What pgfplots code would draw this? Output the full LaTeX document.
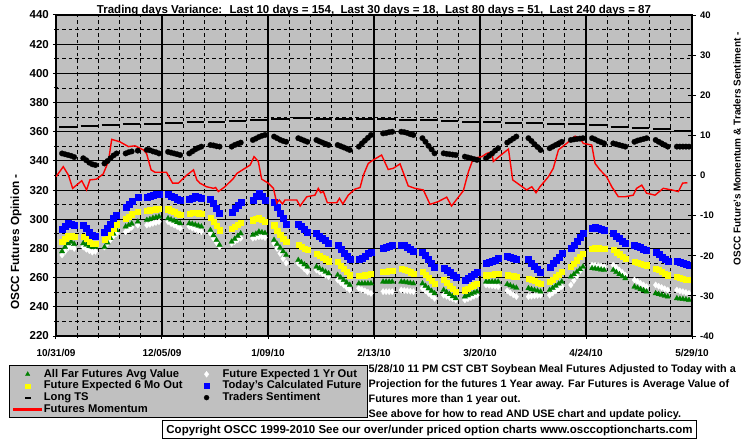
\documentclass[border=0pt]{standalone}
\usepackage{fontspec}
\setmainfont{Liberation Sans}
\usepackage{pgfplots}
\pgfplotsset{compat=1.18}
\usepackage{pgfplotstable}
\definecolor{bg}{RGB}{192,192,192}
\definecolor{mgreen}{RGB}{0,128,0}
\definecolor{myellow}{RGB}{255,255,0}
\definecolor{mblue}{RGB}{0,0,255}
\definecolor{mred}{RGB}{255,0,0}
\newcommand{\myfont}{\fontsize{10.8bp}{13bp}\selectfont\bfseries}
\pgfplotsset{
 markleg/.style={legend image code/.code={\path[draw=none,fill=none] (0bp,-1bp) rectangle (28bp,1bp); \draw[##1] plot coordinates {(14bp,0bp)};}},
 redleg/.style={legend image code/.code={\fill[red] (0bp,-1bp) rectangle (28bp,1bp);}},
 dashleg/.style={legend image code/.code={\path[draw=none,fill=none] (0bp,-1bp) rectangle (28bp,1bp); \fill[fill=black, draw=none] (11bp,-1bp) rectangle (17bp,1bp);}},
}
\pgfplotstableread{
d B Y G W S
2 293.0 284.5 278.0 275.5 5.5
3 295.5 286.5 281.0 278.0 5.3
4 297.5 288.5 283.5 280.5 5.1
5 297.0 289.0 284.5 281.0 4.9
6 296.0 288.0 283.0 280.0 4.6
9 296.0 288.0 283.5 281.0 4.3
10 294.0 286.5 282.5 279.5 3.8
11 291.5 285.0 281.5 278.5 3.2
12 289.0 283.5 281.0 277.5 2.8
13 288.5 283.5 281.0 278.0 2.6
16 291.5 285.8 281.0 281.0 3.0
17 294.0 288.0 284.0 283.5 3.6
18 297.0 291.0 287.0 286.0 4.3
19 300.5 294.0 290.0 288.5 5.0
20 303.0 296.7 292.5 290.3 5.5
23 308.6 300.6 295.0 291.5 5.5
24 310.5 302.0 296.0 293.0 5.8
25 312.5 303.5 297.0 294.5 6.0
27 315.5 305.2 298.3 296.0 6.2
30 315.5 305.9 299.5 296.0 6.4
31 316.0 306.3 300.0 296.5 6.3
32 316.5 306.7 300.8 297.2 6.0
33 317.0 307.0 301.3 297.8 5.8
34 317.0 307.3 301.8 298.3 5.5
37 317.0 307.0 300.6 298.3 5.9
38 316.0 306.0 299.8 297.0 5.7
39 315.0 305.0 299.0 296.0 5.5
40 314.0 304.0 298.0 295.0 5.3
41 313.0 303.0 297.2 293.8 5.1
44 313.7 304.0 297.2 295.0 5.5
45 314.8 304.3 296.8 294.0 6.0
46 315.9 304.5 296.2 293.2 6.5
47 315.0 304.2 295.6 292.3 6.9
48 314.3 304.0 295.0 291.5 7.2
51 314.0 301.3 292.6 290.3 7.6
52 311.0 298.5 289.0 287.0 7.5
53 307.5 295.5 285.7 284.0 7.3
54 304.0 292.6 282.4 281.2 7.2
58 305.0 293.8 284.6 283.5 7.2
59 307.5 295.0 286.5 284.7 7.6
60 310.0 296.5 288.5 286.0 7.9
61 312.0 297.7 290.3 287.0 8.2
65 313.0 299.5 289.2 287.0 8.85
66 316.0 300.5 290.0 287.5 9.2
67 317.8 301.3 291.5 288.0 9.6
68 316.0 300.0 291.0 288.0 9.9
69 313.0 298.3 290.5 287.5 10.1
72 312.0 296.0 285.8 283.5 9.7
73 308.5 292.5 283.0 280.0 9.3
74 304.5 289.5 280.5 276.5 8.9
75 300.5 287.0 278.0 273.0 8.6
76 297.0 284.5 275.5 270.0 8.4
80 297.0 282.4 272.0 269.8 9.3
81 295.0 281.2 270.5 268.0 9.0
82 293.0 280.0 269.0 266.0 8.7
83 291.5 279.0 267.5 264.0 8.4
86 290.3 276.6 267.5 265.2 8.85
87 288.8 275.3 266.3 264.0 8.5
88 287.3 274.0 265.2 262.8 8.2
89 285.7 272.7 264.0 261.7 7.9
90 284.0 271.4 262.9 260.6 7.6
93 282.0 271.0 261.8 258.4 7.6
94 279.5 268.5 260.0 256.6 7.3
95 277.0 266.2 258.3 254.9 7.0
96 274.7 264.0 256.6 253.2 6.7
97 272.5 261.8 255.0 251.5 6.36
100 272.5 261.3 256.0 252.7 7.2
101 273.5 261.5 256.0 251.8 8.0
102 275.0 261.8 256.0 251.0 8.7
103 276.5 262.2 256.0 250.0 9.4
104 277.8 262.5 256.0 249.2 10.1
108 280.0 264.0 257.2 250.4 10.5
109 280.8 264.4 257.2 250.4 10.6
110 281.6 264.7 257.2 250.4 10.8
111 282.4 265.0 257.2 250.4 10.9
114 282.4 266.4 257.2 251.5 10.9
115 282.0 265.5 257.0 251.2 10.8
116 281.0 264.6 256.7 251.0 10.6
117 279.8 263.8 256.3 250.7 10.3
118 278.5 262.9 256.0 250.4 10.1
121 277.8 264.0 256.0 252.7 9.3
122 275.3 262.0 254.3 251.0 8.4
123 272.7 260.0 252.6 249.2 7.4
124 270.0 258.0 250.9 247.5 6.5
125 267.5 256.0 249.2 245.8 5.53
128 266.4 258.4 251.5 248.0 5.53
129 265.0 256.4 250.0 247.2 5.4
130 263.5 254.4 248.6 246.3 5.3
131 262.0 252.4 247.2 245.5 5.2
132 260.6 250.4 245.8 244.7 5.1
135 258.4 251.5 247.0 244.7 4.7
136 259.8 252.6 247.8 245.5 4.5
137 261.2 253.7 248.7 246.3 4.3
138 262.6 254.9 249.6 247.2 4.1
139 264.0 256.0 250.4 248.0 3.9
142 269.8 261.8 257.2 255.0 4.28
143 270.6 262.0 257.2 254.7 4.9
144 271.5 262.3 257.2 254.4 5.5
145 272.3 262.6 257.2 254.1 6.2
146 273.2 262.9 257.2 253.8 6.8
149 275.0 261.8 255.5 251.0 8.2
150 274.3 261.4 254.6 249.5 8.7
151 273.6 261.0 253.7 248.2 9.2
152 273.0 260.6 253.0 247.0 9.7
156 272.5 259.5 252.7 247.0 9.3
157 270.3 258.6 252.1 247.3 8.6
158 268.2 257.7 251.5 247.5 7.8
159 266.0 256.8 251.0 247.8 7.1
160 264.0 256.0 250.4 248.0 6.36
163 267.5 257.2 251.5 248.0 6.8
164 269.8 258.9 252.9 249.5 7.2
165 272.0 260.6 254.4 250.9 7.6
166 274.3 262.3 255.8 252.4 8.0
167 276.6 264.0 257.2 253.8 8.4
170 280.0 267.5 260.6 255.0 8.85
171 282.6 269.8 262.3 258.0 9.0
172 285.2 272.0 264.0 261.0 9.1
173 287.7 274.3 265.8 264.5 9.2
174 290.3 276.6 267.5 267.5 9.3
177 294.2 280.0 266.4 268.6 9.3
178 294.6 280.3 266.2 268.5 9.0
179 294.0 280.3 265.9 268.2 8.6
180 293.3 280.1 265.5 267.8 8.3
181 292.6 280.0 265.2 267.5 8.0
184 290.3 279.0 265.2 268.6 8.0
185 288.6 277.5 263.8 266.9 7.8
186 286.9 276.1 262.3 265.2 7.6
187 285.2 274.6 260.9 263.5 7.4
188 283.5 273.2 259.5 261.8 7.2
191 282.4 271.0 253.8 258.4 8.4
192 281.6 270.4 253.0 257.3 8.7
193 280.7 269.8 252.1 256.1 8.9
194 279.9 269.2 251.3 255.0 9.1
195 279.0 268.6 250.4 253.8 9.3
198 277.8 266.4 249.2 255.0 8.85
199 276.1 265.3 248.6 254.1 8.4
200 274.4 264.1 248.1 253.2 8.0
201 272.7 263.0 247.5 252.4 7.6
202 271.0 261.8 247.0 251.5 7.2
205 271.0 260.6 245.8 251.5 7.2
206 270.4 260.0 245.5 250.9 7.2
207 269.8 259.5 245.3 250.4 7.2
208 269.2 258.9 245.0 249.8 7.2
209 268.6 258.4 244.7 249.2 7.2
}\futures
\pgfplotstableread{
d L
1.1 363.5
6.9 363.5
7.5 nan
8.1 364.1
13.9 364.1
14.5 nan
15.1 364.6
20.9 364.6
21.5 nan
22.1 365.1
27.9 365.1
28.5 nan
29.1 365.5
34.9 365.5
35.5 nan
36.1 366.2
41.9 366.2
42.5 nan
43.1 366.7
48.9 366.7
49.5 nan
50.1 366.9
55.9 366.9
56.5 nan
57.1 367.4
62.9 367.4
63.5 nan
64.1 367.8
69.9 367.8
70.5 nan
71.1 368.7
76.9 368.7
77.5 nan
78.1 369.2
83.9 369.2
84.5 nan
85.1 369.0
90.9 369.0
91.5 nan
92.1 368.8
97.9 368.8
98.5 nan
99.1 368.7
104.9 368.7
105.5 nan
106.1 368.6
111.9 368.6
112.5 nan
113.1 368.2
118.9 368.2
119.5 nan
120.1 368.0
125.9 368.0
126.5 nan
127.1 367.6
132.9 367.6
133.5 nan
134.1 366.9
139.9 366.9
140.5 nan
141.1 366.4
146.9 366.4
147.5 nan
148.1 366.2
153.9 366.2
154.5 nan
155.1 365.8
160.9 365.8
161.5 nan
162.1 365.3
167.9 365.3
168.5 nan
169.1 365.1
174.9 365.1
175.5 nan
176.1 364.4
181.9 364.4
182.5 nan
183.1 363.5
188.9 363.5
189.5 nan
190.1 362.5
195.9 362.5
196.5 nan
197.1 361.6
202.9 361.6
203.5 nan
204.1 360.7
209.9 360.7
}\longts
\pgfplotstableread{
d M
0 -0.3
2.4 2.2
4.1 0.1
5.5 -3.2
8.5 -1.3
10.1 -3.6
11.2 -1.1
13.4 -0.9
15.6 0.4
17.3 3.5
18.4 9.0
21.1 8.4
23.9 7.2
26.1 7.4
28.8 6.4
29.9 5.5
31.4 1.4
32.7 0.8
36.5 0.8
38.5 -1.9
40.4 -1.9
43.2 0.1
45.4 1.4
46.5 -1.1
47.5 -1.9
49.7 -2.8
52.0 -3.2
52.7 -3.0
53.6 -4.0
55.8 -2.8
58.6 -0.7
59.7 0.5
62.4 1.8
64.1 2.6
65.4 4.7
66.8 3.5
67.9 -0.9
70.1 -1.9
71.8 -3.2
72.9 -6.9
73.7 -6.1
74.8 -7.1
75.6 -6.1
79.5 -6.1
80.6 -7.6
82.8 -5.3
85.5 -4.9
86.6 -3.2
87.4 -4.3
88.3 -4.0
89.6 -6.8
92.7 -6.8
93.6 -5.7
94.7 -7.1
96.5 -4.9
98.7 -3.4
100.4 -3.0
101.5 0.1
103.1 3.0
104.8 3.9
107.5 5.1
109.7 1.5
111.4 1.8
113.6 2.9
116.3 -2.6
118.5 -3.2
121.3 -3.6
123.5 -7.2
126.2 -6.5
129.0 -5.4
130.6 -7.6
134.5 -3.8
136.2 1.0
137.8 4.3
140.6 4.7
142.2 5.5
143.9 5.9
144.4 3.5
146.6 4.9
149.4 6.6
150.8 -1.1
153.2 -2.4
155.4 -3.6
157.1 -2.8
158.5 -4.3
159.8 -2.8
162.6 -0.3
164.2 1.8
165.9 6.4
168.6 8.0
171.4 9.8
173.0 9.3
174.1 8.0
176.9 7.6
178.0 3.0
179.6 1.4
181.8 -0.3
183.5 -2.8
185.7 -5.3
187.9 -5.3
190.6 -4.9
191.7 -3.2
193.4 -2.4
195.0 -4.4
197.8 -4.9
200.5 -3.2
203.3 -3.6
205.5 -4.0
206.9 -1.9
208.5 -1.8
}\momentum
\begin{document}
\begin{tikzpicture}
\begin{scope}[x=1bp, y=-1bp, shift={(-56bp,336bp)}]
\draw[fill=bg, line width=1bp] (9.3,365.7) rectangle (367.7,417.7);
\end{scope}
\begin{axis}[
 at={(0,0)}, anchor=south west,
 scale only axis, width=636bp, height=321bp,
 xmin=0, xmax=210, ymin=220, ymax=440,
 axis background/.style={fill=bg},
 axis line style={black, line width=1.2bp},
 xtick={0,35,...,210},
 xticklabels={10/31/09,12/05/09,1/09/10,2/13/10,3/20/10,4/24/10,5/29/10},
 minor xtick={7,14,...,203},
 ytick={220,240,...,440},
 minor ytick={230,250,...,430},
 xtick pos=bottom, ytick pos=left,
 tick align=center,
 major tick length=6bp, minor tick length=4bp,
 tick style={black, line width=1bp},
 grid=both,
 major x grid style={black, line width=2bp, solid},
 minor x grid style={black, line width=0.8bp, dash pattern=on 3.5bp off 3bp},
 major y grid style={black, line width=1bp, solid},
 minor y grid style={black, line width=0.8bp, dash pattern=on 3.5bp off 3bp},
 /pgf/number format/assume math mode=true,
 yticklabel style={font=\fontsize{11.5bp}{13bp}\selectfont\bfseries, inner sep=0pt, xshift=-4bp},
 xticklabel style={font=\fontsize{10bp}{12bp}\selectfont\bfseries, inner sep=0pt, yshift=-10bp},
 ylabel={OSCC Futures Opinion -},
 ylabel style={at={(axis description cs:-0.0629,0.2928)}, anchor=center, font=\fontsize{11.8bp}{13bp}\selectfont\bfseries},
 title={Trading days Variance:~ Last 10 days = 154,~ Last 30 days = 18,~ Last 80 days = 51,~ Last 240 days = 87},
 title style={at={(axis description cs:0.5,1)}, anchor=base, yshift=-4.28bp, font=\fontsize{11.5bp}{13bp}\selectfont\bfseries, inner sep=0pt},
 legend columns=2,
 legend cell align=left,
 legend style={at={(axis description cs:-0.07343,-0.0925)}, anchor=north west, fill=none, draw=none,
   inner xsep=4bp, inner ysep=2.5bp, font=\fontsize{11.2bp}{13bp}\selectfont\bfseries, row sep=0pt, column sep=0pt,
   nodes={inner xsep=2bp, inner ysep=0pt, text height=8.7bp, text depth=3bp}},
]
\addlegendimage{markleg, only marks, mark=triangle*, mark size=2.6bp, draw=mgreen, fill=mgreen, line width=0.3bp}
\addlegendentry{\makebox[146.7bp][l]{All Far Futures Avg Value}}
\addlegendimage{markleg, only marks, mark=diamond*, mark size=3bp, draw=white, fill=white, line width=0.3bp}
\addlegendentry{\makebox[138bp][l]{Future Expected 1 Yr Out}}
\addlegendimage{markleg, only marks, mark=square*, mark size=2.1bp, draw=myellow, fill=myellow, line width=0.3bp}
\addlegendentry{Future Expected 6 Mo Out}
\addlegendimage{markleg, only marks, mark=square*, mark size=2.5bp, draw=mblue, fill=mblue, line width=0.3bp}
\addlegendentry{Today's Calculated Future}
\addlegendimage{dashleg}
\addlegendentry{Long TS}
\addlegendimage{markleg, only marks, mark=*, mark size=2.5bp, draw=black, fill=black, line width=0.3bp}
\addlegendentry{Traders Sentiment}
\addlegendimage{redleg, red, fill=red, no marks}
\addlegendentry{Futures Momentum}
\addplot[forget plot, only marks, mark=diamond*, mark size=3.2bp, color=white, line width=0.2bp] table[x=d, y=W] {\futures};
\addplot[forget plot, only marks, mark=triangle*, mark size=3.2bp, color=mgreen, line width=0.2bp] table[x=d, y=G] {\futures};
\addplot[forget plot, only marks, mark=square*, mark size=2.6bp, color=myellow, line width=0.2bp] table[x=d, y=Y] {\futures};
\addplot[forget plot, only marks, mark=square*, mark size=3bp, color=mblue, line width=0.2bp] table[x=d, y=B] {\futures};
\addplot[forget plot, black, line width=2bp, unbounded coords=jump] table[x=d, y=L] {\longts};
\end{axis}
\begin{axis}[
 at={(0,0)}, anchor=south west,
 scale only axis, width=636bp, height=321bp,
 xmin=0, xmax=210, ymin=-40, ymax=40,
 axis y line*=right, axis x line=none,
 axis line style={-, black, line width=2bp},
 ytick={-40,-30,...,40},
 yticklabels={-40,-30,-20,-10,0,10,20,30,40},
 tick align=center, major tick length=8bp,
 tick style={black, line width=1bp},
 yticklabel style={font=\fontsize{9.5bp}{12bp}\selectfont\bfseries, inner sep=0pt, xshift=4bp},
 ylabel={OSCC Future's Momentum \& Traders Sentiment -},
 ylabel style={at={(axis description cs:1.0708,0.584)}, anchor=center, font=\fontsize{10bp}{13bp}\selectfont\bfseries},
]
\addplot[only marks, mark=*, mark size=2.8bp, color=black, line width=0.2bp] table[x=d, y=S] {\futures};
\addplot[mred, line width=1.4bp] table[x=d, y=M] {\momentum};
\end{axis}
\begin{scope}[x=1bp, y=-1bp, shift={(-56bp,336bp)}]
\node[anchor=base west, inner sep=0pt, font=\myfont] at (368.5,372.5) {5/28/10 11 PM CST CBT Soybean Meal Futures Adjusted to Today with a};
\node[anchor=base west, inner sep=0pt, font=\myfont] at (368.5,388) {Projection for the futures 1 Year away. Far Futures is Average Value of};
\node[anchor=base west, inner sep=0pt, font=\myfont] at (368.5,403) {Futures more than 1 year out.};
\node[anchor=base west, inner sep=0pt, font=\myfont] at (368.5,417.3) {See above for how to read AND USE chart and update policy.};
\draw[fill=white, line width=1bp] (162.3,420.3) rectangle (696.7,438.3);
\node[anchor=base, inner sep=0pt, font=\fontsize{11.5bp}{13bp}\selectfont\bfseries] at (429.5,433.3) {Copyright OSCC 1999-2010 See our over/under priced option charts www.osccoptioncharts.com};
\end{scope}
\pgfresetboundingbox
\path (-56bp,-110bp) rectangle (699bp,336bp);
\end{tikzpicture}
\end{document}
